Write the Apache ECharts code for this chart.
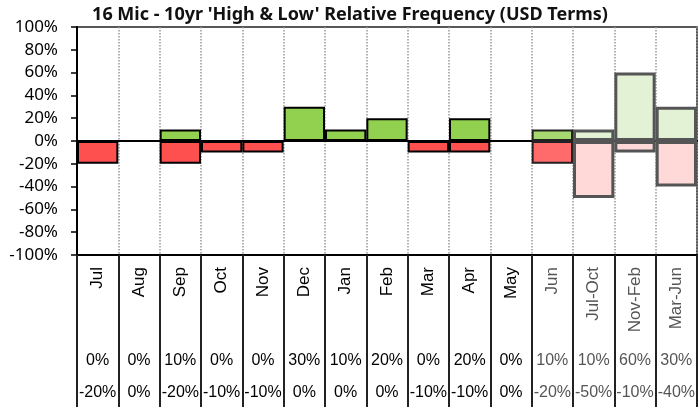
<!DOCTYPE html>
<html>
<head>
<meta charset="utf-8">
<script src="https://cdn.jsdelivr.net/npm/echarts@6/dist/echarts.min.js"></script>
<style>
html,body{margin:0;padding:0;background:#fff;}
#chart{width:699px;height:409px;}
</style>
</head>
<body>
<div id="chart"></div>
<script>
const categories = ['Jul','Aug','Sep','Oct','Nov','Dec','Jan','Feb','Mar','Apr','May','Jun','Jul-Oct','Nov-Feb','Mar-Jun'];
const highs = [0,0,10,0,0,30,10,20,0,20,0,10,10,60,30];
const lows = [-20,0,-20,-10,-10,0,0,0,-10,-10,0,-20,-50,-10,-40];
const yTicks = [-100,-80,-60,-40,-20,0,20,40,60,80,100];

function styleFor(i, positive){
  if (i <= 10) return {color: positive ? '#92D050' : '#FF5050', borderColor:'#000', borderWidth:2};
  if (i === 11) return {color: positive ? '#A8D870' : '#FF6B6B', borderColor:'#222', borderWidth:2};
  return {color: positive ? '#E3F2D5' : '#FFD8D8', borderColor:'#555', borderWidth:3};
}
function toData(arr, positive){
  return arr.map((v,i)=> v === 0 ? null : {value:v, itemStyle:styleFor(i,positive)});
}
const labelColor = (v, i) => (i >= 11 ? '#555' : '#000');
const fontTbl = 'Liberation Sans';

const chart = echarts.init(document.getElementById('chart'));
chart.setOption({
  animation:false,
  backgroundColor:'#fff',
  title:{
    text:"16 Mic - 10yr 'High & Low' Relative Frequency (USD Terms)",
    left:345, textAlign:'center', top:1,
    textStyle:{fontFamily:'Noto Sans', fontWeight:'bold', fontSize:18, color:'#111'}
  },
  grid:{left:77, right:2, top:27, bottom:154, show:true, borderColor:'#222', borderWidth:1.5, containLabel:false},
  yAxis:{
    type:'value', min:yTicks[0], max:yTicks[yTicks.length-1], interval:20,
    axisLine:{show:true, onZero:false, lineStyle:{color:'#000', width:2}},
    axisTick:{show:true, length:6, lineStyle:{color:'#000', width:1.5}},
    axisLabel:{formatter:'{value}%', margin:19, fontFamily:'Noto Sans', fontSize:17, color:'#000'},
    splitLine:{show:false}
  },
  xAxis:[
    {type:'category', data:categories, position:'bottom',
     axisLine:{show:true, onZero:true, lineStyle:{color:'#000', width:2}},
     axisTick:{show:false}, axisLabel:{show:false},
     splitLine:{show:true, interval:0, lineStyle:{color:'#999', type:'dotted', width:1.5}}},
    {type:'category', data:categories, position:'bottom',
     axisLine:{show:true, onZero:false, lineStyle:{color:'#000', width:2}},
     axisTick:{show:true, interval:0, length:152, lineStyle:{color:'#222', width:2}},
     axisLabel:{interval:0, rotate:90, margin:12, fontFamily:fontTbl, fontSize:17, color:labelColor},
     splitLine:{show:false}},
    {type:'category', data:categories, position:'bottom', offset:98,
     axisLine:{show:false, onZero:false}, axisTick:{show:false},
     axisLabel:{interval:0, margin:0, fontFamily:fontTbl, fontSize:16, color:labelColor,
       formatter:(v,i)=> highs[i] + '%'},
     splitLine:{show:false}},
    {type:'category', data:categories, position:'bottom', offset:130,
     axisLine:{show:false, onZero:false}, axisTick:{show:false},
     axisLabel:{interval:0, margin:0, fontFamily:fontTbl, fontSize:16, color:labelColor,
       formatter:(v,i)=> lows[i] + '%'},
     splitLine:{show:false}}
  ],
  series:[
    {type:'bar', xAxisIndex:0, data:toData(highs,true), barGap:'-100%', barCategoryGap:0, z:2},
    {type:'bar', xAxisIndex:0, data:toData(lows,false), barGap:'-100%', barCategoryGap:0, z:2}
  ]
});
</script>
</body>
</html>
